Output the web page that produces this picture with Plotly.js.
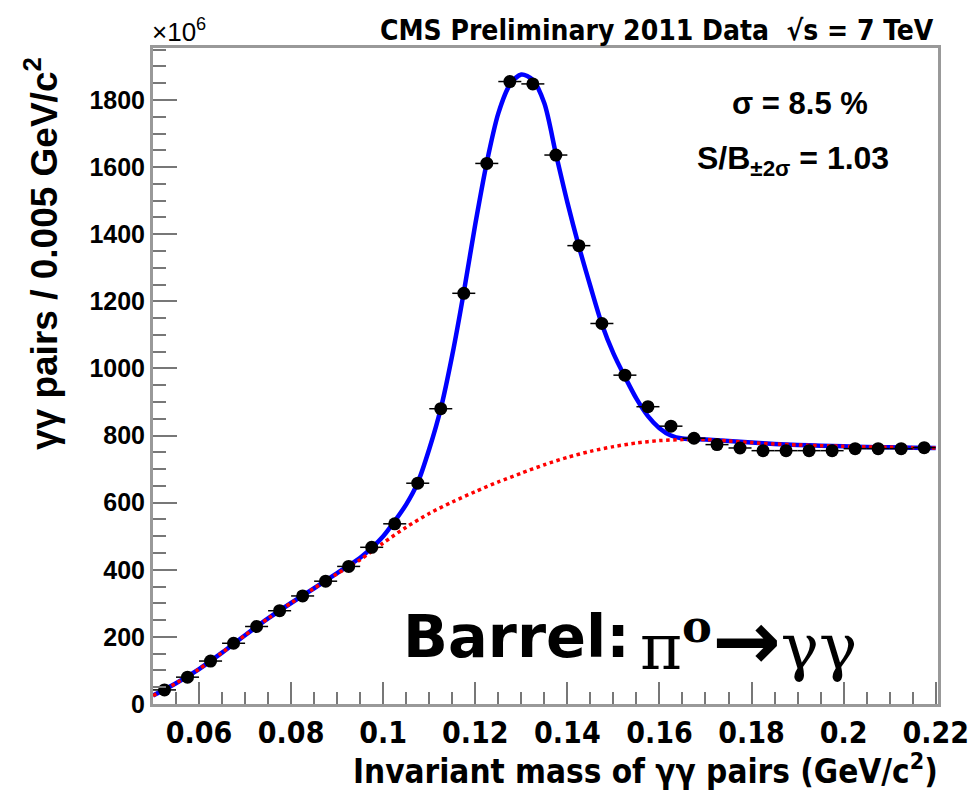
<!DOCTYPE html>
<html>
<head>
<meta charset="utf-8">
<script src="https://cdn.plot.ly/plotly-3.0.1.min.js"></script>
<style>html,body{margin:0;padding:0;background:#fff;}#chart{width:974px;height:792px;}</style>
</head>
<body>
<div id="chart"></div>
<script>
// Data points (bin centres, GeV/c^2) and counts (x10^6)
var massBins = [0.0525,0.0575,0.0625,0.0675,0.0725,0.0775,0.0825,0.0875,0.0925,0.0975,
                0.1025,0.1075,0.1125,0.1175,0.1225,0.1275,0.1325,0.1375,0.1425,0.1475,
                0.1525,0.1575,0.1625,0.1675,0.1725,0.1775,0.1825,0.1875,0.1925,0.1975,
                0.2025,0.2075,0.2125,0.2175];
var counts = [42,80,128,181,231,278,322,366,410,467,
              537,658,880,1224,1611,1855,1848,1636,1366,1134,
              980,886,828,792,773,763,755,755,755,755,
              761,761,761,764];
var binHalfWidth = 0.0025;

// Total fit (signal + background)
var totalMass = [0.050,0.055,0.060,0.065,0.070,0.075,0.080,0.085,0.090,0.095,0.0975,0.100,0.1025,0.105,0.1075,
                 0.110,0.1125,0.115,0.1175,0.120,0.1225,0.125,0.1275,0.130,0.1325,0.135,0.1375,0.140,0.1425,
                 0.145,0.1475,0.150,0.1525,0.155,0.1575,0.160,0.1625,0.165,0.170,0.175,0.180,0.185,0.190,
                 0.195,0.200,0.205,0.210,0.215,0.220];
var totalCounts = [25,62,104,153,205,255,301,345,390,436,465,500,545,595,660,
                   760,880,1040,1227,1430,1614,1760,1845,1876,1860,1790,1640,1495,1364,
                   1245,1132,1045,975,910,858,822,800,791,788,784,779,775,772,
                   770,768,766,765,764,763];

// Background fit
var bkgMass = [0.050,0.055,0.060,0.065,0.070,0.075,0.080,0.085,0.090,0.095,0.100,0.105,0.110,0.115,0.120,
               0.125,0.130,0.135,0.140,0.145,0.150,0.155,0.160,0.165,0.170,0.175,0.180,0.185,0.190,0.195,
               0.200,0.205,0.210,0.215,0.220];
var bkgCounts = [25,62,104,153,205,255,301,345,388,430,480,527,568,602,633,
                 662,688,713,735,753,767,778,785,788,788,784,779,775,772,770,
                 768,766,765,764,763];

var xTickVals = [0.06,0.08,0.10,0.12,0.14,0.16,0.18,0.20,0.22];
var xTickText = ["0.06","0.08","0.1","0.12","0.14","0.16","0.18","0.2","0.22"];
var yTickVals = [0,200,400,600,800,1000,1200,1400,1600,1800];
var yTickText = ["0","200","400","600","800","1000","1200","1400","1600","1800"];

var narrow = "Liberation Sans Narrow, DejaVu Sans Condensed, Liberation Sans, Arial, sans-serif";
var sans = "Liberation Sans, Arial, sans-serif";

var traces = [
  {x: totalMass, y: totalCounts, type:'scatter', mode:'lines',
   line:{color:'#0000ff', width:4.5, shape:'spline', smoothing:0.8}, hoverinfo:'skip'},
  {x: bkgMass, y: bkgCounts, type:'scatter', mode:'lines',
   line:{color:'#ff0000', width:3.5, dash:'dot', shape:'spline', smoothing:0.8}, hoverinfo:'skip'},
  {x: massBins, y: counts, type:'scatter', mode:'markers',
   marker:{color:'#000', size:13, symbol:'circle'},
   error_x:{type:'constant', value: binHalfWidth, width:0, thickness:1.5, color:'#000'}}
];

function px(xp){ return (xp-153)/785; }
function py(yp){ return (704-yp)/656; }

var layout = {
  width:974, height:792,
  margin:{l:153, r:36, t:48, b:88},
  paper_bgcolor:'#fff', plot_bgcolor:'#fff',
  showlegend:false,
  xaxis:{range:[0.05,0.2205], tickmode:'array', tickvals:xTickVals, ticktext:xTickText,
         ticks:'inside', ticklen:22, tickwidth:2, tickcolor:'#777',
         showline:true, linecolor:'#999', linewidth:3, mirror:true,
         showgrid:false, zeroline:false,
         tickfont:{family:narrow, size:30, color:'#000', weight:'bold'},
         minor:{tick0:0.05, dtick:0.005, ticks:'inside', ticklen:12, tickwidth:2, tickcolor:'#777', showgrid:false}},
  yaxis:{range:[0,1955], tickmode:'array', tickvals:yTickVals, ticktext:yTickText,
         ticks:'inside', ticklen:24, tickwidth:2, tickcolor:'#777',
         showline:true, linecolor:'#999', linewidth:3, mirror:true,
         showgrid:false, zeroline:false,
         tickfont:{family:sans, size:25, color:'#000', weight:'bold'},
         minor:{tick0:0, dtick:50, ticks:'inside', ticklen:13, tickwidth:2, tickcolor:'#777', showgrid:false}},
  annotations:[
    {xref:'paper', yref:'paper', x:px(940), y:py(769), xanchor:'right', yanchor:'middle', showarrow:false,
     text:'Invariant mass of γγ pairs (GeV/c<sup>2</sup>)',
     font:{family:narrow, size:33, color:'#000', weight:'bold'}},
    {xref:'paper', yref:'paper', x:px(42), y:py(254), xanchor:'center', yanchor:'middle', showarrow:false,
     textangle:-90, text:'γγ pairs / 0.005 GeV/c<sup>2</sup>',
     font:{family:sans, size:37, color:'#000', weight:'bold'}},
    {xref:'paper', yref:'paper', x:px(150), y:py(30), xanchor:'left', yanchor:'middle', showarrow:false,
     text:'×10<sup>6</sup>', font:{family:sans, size:26, color:'#000'}},
    {xref:'paper', yref:'paper', x:px(936), y:py(30), xanchor:'right', yanchor:'middle', showarrow:false,
     text:'CMS Preliminary 2011 Data  √s = 7 TeV', font:{family:narrow, size:28, color:'#000', weight:'bold'}},
    {xref:'paper', yref:'paper', x:px(800), y:py(103), xanchor:'center', yanchor:'middle', showarrow:false,
     text:'σ = 8.5 %', font:{family:sans, size:31, color:'#000', weight:'bold'}},
    {xref:'paper', yref:'paper', x:px(793), y:py(160), xanchor:'center', yanchor:'middle', showarrow:false,
     text:'S/B<sub>±2σ</sub> = 1.03', font:{family:sans, size:32, color:'#000', weight:'bold'}},
    {xref:'paper', yref:'paper', x:px(632), y:py(636), xanchor:'right', yanchor:'middle', showarrow:false,
     text:'Barrel:', font:{family:'DejaVu Sans, Verdana, sans-serif', size:59, color:'#000', weight:'bold'}},
    {xref:'paper', yref:'paper', x:px(638), y:py(640), xanchor:'left', yanchor:'middle', showarrow:false,
     text:'π<sup><b>o</b></sup><span style="font-family:DejaVu Sans;font-weight:bold;font-size:82px">→</span>γγ',
     font:{family:'DejaVu Serif, Liberation Serif, serif', size:64, color:'#000'}}
  ]
};

Plotly.newPlot('chart', traces, layout, {displayModeBar:false, staticPlot:true});
</script>
</body>
</html>
